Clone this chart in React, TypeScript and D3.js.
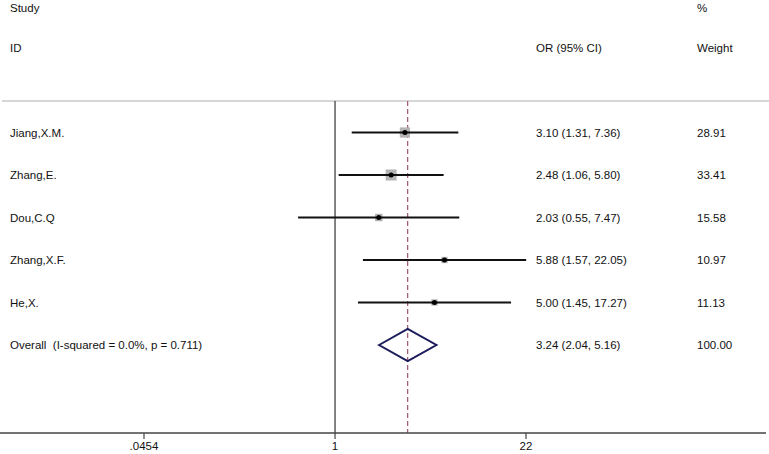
import React from "react";
import * as d3 from "d3";

const studies = ["Jiang,X.M.", "Zhang,E.", "Dou,C.Q", "Zhang,X.F.", "He,X."];
const oddsRatio = [3.10, 2.48, 2.03, 5.88, 5.00];
const lowerCI = [1.31, 1.06, 0.55, 1.57, 1.45];
const upperCI = [7.36, 5.80, 7.47, 22.05, 17.27];
const weights = [28.91, 33.41, 15.58, 10.97, 11.13];
const ciLabels = ["3.10 (1.31, 7.36)", "2.48 (1.06, 5.80)", "2.03 (0.55, 7.47)", "5.88 (1.57, 22.05)", "5.00 (1.45, 17.27)"];
const weightLabels = ["28.91", "33.41", "15.58", "10.97", "11.13"];

const overallLabel = "Overall  (I-squared = 0.0%, p = 0.711)";
const overallOR = 3.24;
const overallLower = 2.04;
const overallUpper = 5.16;
const overallCILabel = "3.24 (2.04, 5.16)";
const overallWeight = "100.00";

const tickValues = [0.0454, 1, 22];
const tickLabels = [".0454", "1", "22"];

const width = 769;
const height = 454;
const font = "'Liberation Sans', Arial, sans-serif";

export default function App() {
  const x = d3.scaleLog().domain([0.0454, 22]).range([144, 526]);
  const rows = [...studies, overallLabel];
  const y = d3.scalePoint<string>().domain(rows).range([132.5, 345]);
  const boxSize = d3.scaleSqrt().domain([0, d3.max(weights) as number]).range([0, 11]);

  const topY = 101;
  const axisY = 433;
  const colCI = 536;
  const colW = 697;
  const oy = y(overallLabel) as number;

  return (
    <svg width={width} height={height} style={{ position: "absolute", left: 0, top: 0 }} fontFamily={font} fontSize={11.5} fill="#111">
      <rect width={width} height={height} fill="#fff" />
      {/* headers */}
      <text x={10} y={12}>Study</text>
      <text x={10} y={52}>ID</text>
      <text x={colCI} y={52}>OR (95% CI)</text>
      <text x={colW} y={12}>%</text>
      <text x={colW} y={52}>Weight</text>

      <line x1={2} x2={width} y1={topY} y2={topY} stroke="#c8c8c8" strokeWidth={1.5} />

      {/* null line */}
      <line x1={x(1)} x2={x(1)} y1={topY} y2={axisY} stroke="#333" strokeWidth={1.2} />
      {/* overall dashed line */}
      <line x1={x(overallOR)} x2={x(overallOR)} y1={topY} y2={axisY} stroke="#a0566a" strokeWidth={1.2} strokeDasharray="5,3" />

      {studies.map((s, i) => {
        const cy = y(s) as number;
        const side = boxSize(weights[i]);
        return (
          <g key={s}>
            <text x={10} y={cy + 4}>{s}</text>
            <rect x={x(oddsRatio[i]) - side / 2} y={cy - side / 2} width={side} height={side} fill="#b4b4b4" />
            <line x1={x(lowerCI[i])} x2={x(upperCI[i])} y1={cy} y2={cy} stroke="#111" strokeWidth={2} />
            <circle cx={x(oddsRatio[i])} cy={cy} r={2.5} fill="#000" />
            <text x={colCI} y={cy + 4}>{ciLabels[i]}</text>
            <text x={colW} y={cy + 4}>{weightLabels[i]}</text>
          </g>
        );
      })}

      <text x={10} y={oy + 4} style={{ whiteSpace: "pre" }}>{overallLabel}</text>
      <path
        d={`M${x(overallLower)},${oy} L${x(overallOR)},${oy - 16} L${x(overallUpper)},${oy} L${x(overallOR)},${oy + 16} Z`}
        fill="none"
        stroke="#1c1c5c"
        strokeWidth={2}
      />
      <text x={colCI} y={oy + 4}>{overallCILabel}</text>
      <text x={colW} y={oy + 4}>{overallWeight}</text>

      {/* axis */}
      <line x1={0} x2={766} y1={axisY} y2={axisY} stroke="#444" strokeWidth={1.5} />
      {tickValues.map((t, i) => (
        <g key={t}>
          <line x1={x(t)} x2={x(t)} y1={axisY} y2={axisY + 6} stroke="#444" strokeWidth={1.2} />
          <text x={x(t)} y={axisY + 17} textAnchor="middle">{tickLabels[i]}</text>
        </g>
      ))}
    </svg>
  );
}
